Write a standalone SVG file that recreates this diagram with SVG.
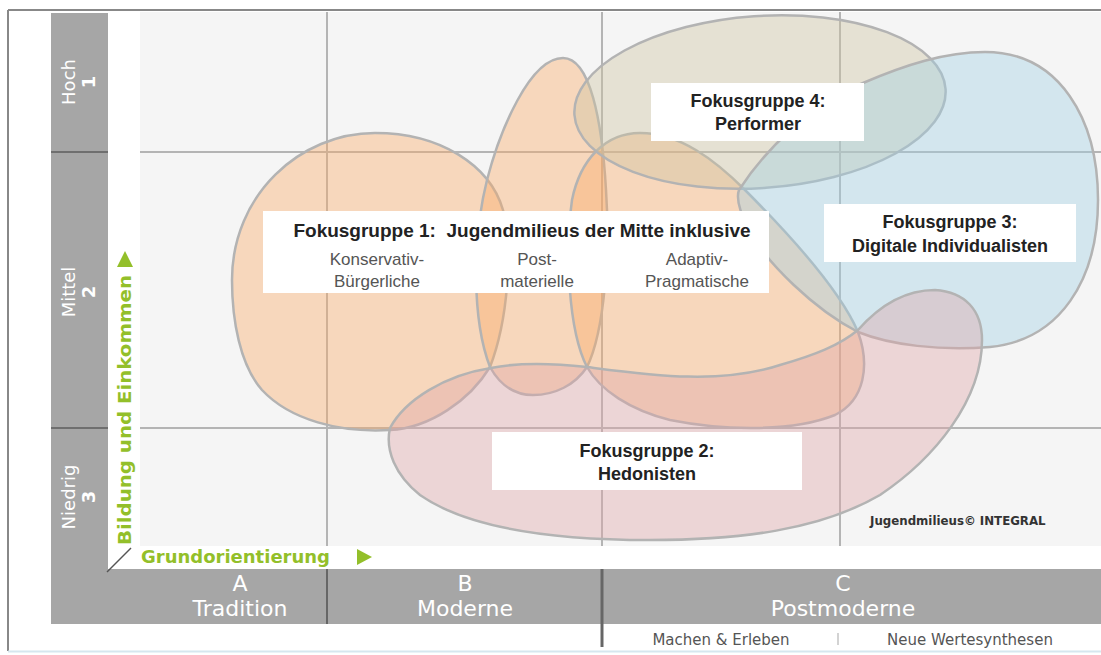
<svg xmlns="http://www.w3.org/2000/svg" width="1101" height="655" viewBox="0 0 1101 655">
<defs>
<style>
.lbl{font-family:"DejaVu Sans",Verdana,sans-serif;fill:#fff;font-size:18px;text-anchor:middle}
.num{font-weight:bold}
.axis{font-family:"DejaVu Sans",Verdana,sans-serif;font-weight:bold;fill:#93bf2a;font-size:18px}
.grid{stroke:#b4b4b4;stroke-width:2;fill:none}
.sep{stroke:#6f6f6f;stroke-width:2;fill:none}
.blob{stroke:#b3b3b3;stroke-width:2.5;fill-opacity:0.4}
.box{fill:#fff}
.t{font-family:"Liberation Sans",Arial,sans-serif;font-weight:bold;font-size:18px;fill:#222;text-anchor:middle}
.t1{font-size:19px}
.s{font-family:"Liberation Sans",Arial,sans-serif;font-size:17px;fill:#555;text-anchor:middle}
.bot{font-family:"DejaVu Sans",Verdana,sans-serif;fill:#fff;font-size:22px;text-anchor:middle}
.sub{font-family:"DejaVu Sans",Verdana,sans-serif;fill:#555;font-size:15px;text-anchor:middle}
</style>
</defs>
<rect width="1101" height="655" fill="#fff"/>
<!-- frame -->
<line x1="8" y1="10" x2="1101" y2="10" stroke="#888" stroke-width="2"/>
<line x1="8" y1="10" x2="8" y2="651" stroke="#888" stroke-width="2"/>
<line x1="8" y1="651.5" x2="1101" y2="651.5" stroke="#d6e7ef" stroke-width="2"/>

<!-- plot background and grid -->
<rect x="140" y="12" width="961" height="534" fill="#f5f5f5"/>
<g id="grid">
<line class="grid" x1="327" y1="12" x2="327" y2="546"/>
<line class="grid" x1="602" y1="12" x2="602" y2="546"/>
<line class="grid" x1="840" y1="12" x2="840" y2="546"/>
<line class="grid" x1="140" y1="152" x2="1101" y2="152"/>
<line class="grid" x1="140" y1="428" x2="1101" y2="428"/>
</g>

<!-- left axis bar -->
<g id="y-axis">
<rect x="51" y="13" width="57" height="560" fill="#a6a6a6"/>
<line class="sep" x1="51" y1="152" x2="108" y2="152"/>
<line class="sep" x1="51" y1="428" x2="108" y2="428"/>
<g transform="translate(75,82) rotate(-90)"><text class="lbl" x="0" y="0">Hoch</text><text class="lbl num" x="0" y="20">1</text></g>
<g transform="translate(75,292) rotate(-90)"><text class="lbl" x="0" y="0">Mittel</text><text class="lbl num" x="0" y="20">2</text></g>
<g transform="translate(75,497) rotate(-90)"><text class="lbl" x="0" y="0">Niedrig</text><text class="lbl num" x="0" y="20">3</text></g>
</g>

<!-- bottom axis bar -->
<g id="x-axis">
<rect x="51" y="569" width="1050" height="55" fill="#a6a6a6"/>
<line x1="327" y1="569" x2="327" y2="624" stroke="#666" stroke-width="2"/>
<line x1="602" y1="569" x2="602" y2="647" stroke="#666" stroke-width="3"/>
<text class="bot" x="240" y="591">A</text>
<text class="bot" x="240" y="616">Tradition</text>
<text class="bot" x="465" y="591">B</text>
<text class="bot" x="465" y="616">Moderne</text>
<text class="bot" x="843" y="591">C</text>
<text class="bot" x="843" y="616">Postmoderne</text>
<text class="sub" x="721" y="645">Machen &amp; Erleben</text>
<line x1="838" y1="633" x2="838" y2="645" stroke="#c4c4c4" stroke-width="1.5"/>
<text class="sub" x="970" y="645">Neue Wertesynthesen</text>
</g>

<!-- axis titles -->
<g id="axis-titles">
<line x1="107" y1="572" x2="131" y2="548" stroke="#555" stroke-width="1.5"/>
<text class="axis" transform="translate(131,545) rotate(-90)" x="0" y="0" textLength="270" lengthAdjust="spacingAndGlyphs">Bildung und Einkommen</text>
<polygon points="117,267 133,267 125,251" fill="#93bf2a"/>
<text class="axis" x="141" y="563">Grundorientierung</text>
<polygon points="357,549 357,565 372,557" fill="#93bf2a"/>
</g>

<!-- milieu blobs -->
<g id="blobs">
<path id="konservativ" class="blob" fill="#faaa66" d="M232,280 C232,195 300,133 375,133 C440,133 490,165 503,210 C513,250 508,320 490,367 C470,400 430,428 390,430 C340,433 290,420 262,390 C240,365 232,320 232,280 Z"/>
<path id="postmateriell" class="blob" fill="#faaa66" d="M563,58 C530,58 500,130 487,180 C472,240 472,320 490,367 C500,385 515,395 533,395 C555,395 575,385 587,367 C605,330 610,250 606,190 C602,120 590,58 563,58 Z"/>
<path id="adaptiv" class="blob" fill="#faaa66" d="M587,367 C568,330 565,250 572,200 C580,160 605,133 640,133 C680,133 715,160 745,190 C790,235 840,290 858,332 C870,365 865,400 835,415 C790,433 720,430 670,420 C630,410 600,390 587,367 Z"/>
<ellipse id="performer" class="blob" fill="#cdc3a0" cx="760" cy="102" rx="186" ry="86" transform="rotate(-4 760 102)"/>
<path id="digital" class="blob" fill="#a0cfe3" d="M739,190 C765,150 810,105 863,83 C905,65 945,52 985,52 C1060,52 1098,120 1098,200 C1098,280 1060,340 990,347 C940,351 890,345 858,332 C815,310 765,262 748,228 C740,212 736,198 739,190 Z"/>
<path id="hedonisten" class="blob" fill="#dea5a7" d="M390,428 C405,400 445,375 491,368 C520,362 560,364 587,367 C650,375 720,385 780,365 C815,355 840,345 858,330 C880,305 905,290 935,290 C965,292 982,310 982,340 C982,400 935,458 880,495 C820,530 740,540 650,540 C560,540 470,530 420,495 C395,475 385,450 390,428 Z"/>
</g>

<!-- label boxes -->
<g id="fg1">
<rect class="box" x="263" y="211" width="506" height="82"/>
<text class="t t1" x="522" y="237" xml:space="preserve">Fokusgruppe 1:  Jugendmilieus der Mitte inklusive</text>
<text class="s" x="377" y="265">Konservativ-</text>
<text class="s" x="377" y="287">Bürgerliche</text>
<text class="s" x="537" y="265">Post-</text>
<text class="s" x="537" y="287">materielle</text>
<text class="s" x="697" y="265">Adaptiv-</text>
<text class="s" x="697" y="287">Pragmatische</text>
</g>
<g id="fg4">
<rect class="box" x="651" y="83" width="213" height="58"/>
<text class="t" x="758" y="107">Fokusgruppe 4:</text>
<text class="t" x="758" y="130">Performer</text>
</g>
<g id="fg3">
<rect class="box" x="824" y="204" width="252" height="58"/>
<text class="t" x="950" y="228">Fokusgruppe 3:</text>
<text class="t" x="950" y="252">Digitale Individualisten</text>
</g>
<g id="fg2">
<rect class="box" x="492" y="432" width="310" height="58"/>
<text class="t" x="647" y="457">Fokusgruppe 2:</text>
<text class="t" x="647" y="480">Hedonisten</text>
</g>
<text x="870" y="525" font-family="DejaVu Sans, Verdana, sans-serif" font-weight="bold" font-size="11.8" fill="#333">Jugendmilieus© INTEGRAL</text>
</svg>
